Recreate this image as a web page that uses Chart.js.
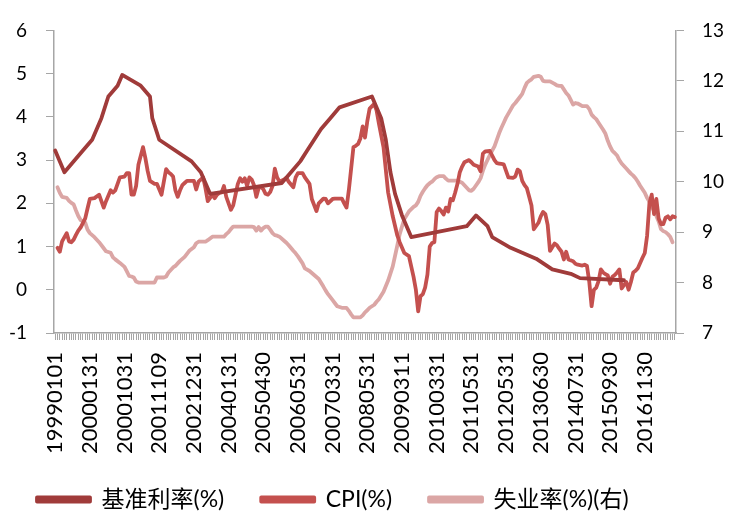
<!DOCTYPE html>
<html><head><meta charset="utf-8">
<script src="https://cdn.jsdelivr.net/npm/chart.js@4/dist/chart.umd.min.js"></script>
<style>html,body{margin:0;padding:0;background:#fff;}#wrap{width:729px;height:518px;}</style>
</head><body><div id="wrap"><canvas id="c" width="729" height="518"></canvas></div>
<script>
// Month-end observation dates
const monthEnds = [
'19990131','19990228','19990331','19990430','19990531','19990630','19990731','19990831','19990930','19991031','19991130','19991231',
'20000131','20000229','20000331','20000430','20000531','20000630','20000731','20000831','20000930','20001031','20001130','20001231',
'20010131','20010228','20010331','20010430','20010531','20010630','20010731','20010831','20010930','20011031','20011130','20011231',
'20020131','20020228','20020331','20020430','20020531','20020630','20020731','20020831','20020930','20021031','20021130','20021231',
'20030131','20030228','20030331','20030430','20030531','20030630','20030731','20030831','20030930','20031031','20031130','20031231',
'20040131','20040229','20040331','20040430','20040531','20040630','20040731','20040831','20040930','20041031','20041130','20041231',
'20050131','20050228','20050331','20050430','20050531','20050630','20050731','20050831','20050930','20051031','20051130','20051231',
'20060131','20060228','20060331','20060430','20060531','20060630','20060731','20060831','20060930','20061031','20061130','20061231',
'20070131','20070228','20070331','20070430','20070531','20070630','20070731','20070831','20070930','20071031','20071130','20071231',
'20080131','20080229','20080331','20080430','20080531','20080630','20080731','20080831','20080930','20081031','20081130','20081231',
'20090131','20090228','20090331','20090430','20090531','20090630','20090731','20090831','20090930','20091031','20091130','20091231',
'20100131','20100228','20100331','20100430','20100531','20100630','20100731','20100831','20100930','20101031','20101130','20101231',
'20110131','20110228','20110331','20110430','20110531','20110630','20110731','20110831','20110930','20111031','20111130','20111231',
'20120131','20120229','20120331','20120430','20120531','20120630','20120731','20120831','20120930','20121031','20121130','20121231',
'20130131','20130228','20130331','20130430','20130531','20130630','20130731','20130831','20130930','20131031','20131130','20131231',
'20140131','20140228','20140331','20140430','20140531','20140630','20140731','20140831','20140930','20141031','20141130','20141231',
'20150131','20150228','20150331','20150430','20150531','20150630','20150731','20150831','20150930','20151031','20151130','20151231',
'20160131','20160229','20160331','20160430','20160531','20160630','20160731','20160831','20160930','20161031','20161130','20161231',
'20170131','20170228','20170331','20170430','20170531','20170630','20170731','20170831','20170930','20171031','20171130','20171231'
];

// Policy-rate change dates and levels (left axis, %)
const rateDates = ['19990101','19990409','19991105','20000204','20000317','20000428','20000609','20000901','20001006',
'20010511','20010831','20010918','20011109','20021206','20030307','20030606','20051206','20060308','20060615','20060809',
'20061011','20061213','20070314','20070613','20080709','20081015','20081112','20081210','20090121','20090311','20090408',
'20090513','20110413','20110713','20111109','20111214','20120711','20130508','20131113','20140611','20140910','20160316'];
const rateValues = [3.22,2.72,3.22,3.47,3.72,3.97,4.47,4.72,4.97,
4.72,4.47,3.97,3.47,2.97,2.72,2.22,2.47,2.72,2.97,3.22,
3.47,3.72,3.97,4.22,4.47,3.97,3.47,2.72,2.22,1.72,1.47,
1.22,1.47,1.72,1.47,1.22,0.97,0.72,0.47,0.37,0.27,0.22];

// CPI, % (left axis), monthly 1999-01 .. 2017-12
const cpiValues = [
0.97,0.88,1.12,1.31,1.12,1.1,1.16,1.27,1.37,1.44,1.65,1.88,
2.1,2.12,2.2,1.9,2.05,2.3,2.25,2.3,2.6,2.62,2.7,2.7,
2.2,2.2,2.4,2.89,3.3,3.05,2.75,2.52,2.45,2.45,2.2,2.5,
2.79,2.72,2.68,2.62,2.3,2.15,2.3,2.42,2.47,2.52,2.52,2.52,
2.32,2.5,2.6,2.35,2.05,2.2,2.12,2.2,2.24,2.25,2.4,2.15,
2.0,1.85,1.95,2.2,2.45,2.58,2.5,2.58,2.4,2.6,2.55,2.42,
2.15,2.35,2.38,2.33,2.22,2.2,2.26,2.4,2.8,2.6,2.5,2.55,
2.59,2.5,2.37,2.6,2.7,2.7,2.6,2.45,2.1,1.82,2.0,2.11,
2.1,2.0,2.1,2.11,2.11,2.11,2.0,1.9,2.3,2.8,3.3,3.33,
3.37,3.5,3.78,3.52,3.9,4.19,4.3,4.15,3.85,3.3,2.25,1.7,
1.25,1.1,0.85,0.78,0.3,0.0,-0.5,-0.15,-0.1,0.05,0.35,1.0,
1.08,1.1,1.8,1.88,1.82,1.74,1.9,1.81,2.1,2.07,2.25,2.45,
2.72,2.85,2.95,3.0,2.95,2.89,2.85,2.74,3.15,3.2,3.21,3.0,
2.93,2.92,2.91,2.9,2.75,2.6,2.59,2.62,2.78,2.74,2.52,2.42,
2.35,2.15,1.95,1.4,1.55,1.7,1.8,1.75,1.5,0.9,1.07,1.03,
0.95,0.88,0.7,0.88,0.7,0.66,0.6,0.58,0.56,0.58,0.55,0.18,
-0.38,0.0,0.05,0.2,0.47,0.4,0.36,0.33,0.14,0.3,0.34,0.4,
0.47,0.03,0.18,0.0,0.18,0.4,0.44,0.5,0.62,0.74,0.85,1.25,
2.0,2.2,1.75,2.1,1.65,1.52,1.52,1.67,1.7,1.63,1.7,1.68
];

// Unemployment rate, % (right axis), monthly 1999-01 .. 2017-11
const unempValues = [
9.89,9.78,9.7,9.68,9.62,9.58,9.55,9.43,9.32,9.24,9.19,9.05,
8.98,8.9,8.8,8.68,8.62,8.59,8.5,8.46,8.39,8.31,8.22,8.13,
8.12,8.1,8.02,8.0,8.0,8.0,8.0,8.0,8.0,8.1,8.1,8.1,
8.12,8.2,8.25,8.3,8.33,8.38,8.43,8.47,8.51,8.57,8.63,8.7,
8.78,8.81,8.81,8.81,8.84,8.91,8.91,8.91,8.91,8.91,8.91,8.96,
9.0,9.06,9.11,9.11,9.11,9.11,9.11,9.11,9.11,9.11,9.11,9.1,
9.03,9.1,9.03,9.08,9.11,9.11,9.05,8.98,8.94,8.93,8.91,8.83,
8.79,8.74,8.63,8.58,8.52,8.38,8.28,8.23,8.19,8.11,8.07,7.92,
7.84,7.77,7.65,7.59,7.53,7.5,7.5,7.5,7.44,7.37,7.31,7.31,
7.31,7.31,7.35,7.41,7.45,7.5,7.56,7.62,7.67,7.82,8.04,8.32,
8.74,8.96,9.26,9.41,9.5,9.53,9.6,9.72,9.8,9.87,9.93,9.97,
10.0,10.05,10.09,10.11,10.11,10.11,10.06,10.02,10.02,10.02,10.02,10.02,
10.0,9.98,9.93,9.83,9.82,9.86,9.99,10.07,10.22,10.34,10.53,10.7,
10.83,10.96,11.07,11.17,11.27,11.35,11.51,11.56,11.62,11.68,11.74,11.86,
11.96,12.0,12.03,12.08,12.1,12.08,12.0,11.99,11.99,11.99,11.94,11.91,
11.9,11.9,11.83,11.76,11.71,11.53,11.56,11.55,11.5,11.5,11.5,11.44,
11.33,11.28,11.24,11.17,11.1,11.03,10.95,10.81,10.7,10.61,10.57,10.52,
10.43,10.36,10.26,10.21,10.16,10.12,10.07,10.0,9.92,9.85,9.78,9.68,
9.6,9.51,9.42,9.32,9.21,9.06,9.02,9.0,8.96,8.91,8.8
];

const xTickLabels = ['19990101','20000131','20001031','20011109','20021231','20040131','20050430','20060531','20070331',
'20080531','20090311','20100331','20110531','20120531','20130630','20140731','20150930','20161130'];
const seriesNames = ['基准利率(%)', 'CPI(%)', '失业率(%)(右)'];
const leftTicks = {min: -1, max: 6, step: 1};
const rightTicks = {min: 7, max: 13, step: 1};

// Build the category table (all dates, chronological)
const categories = Array.from(new Set(monthEnds.concat(rateDates))).sort();
const ratePoints = rateDates.map((d, i) => ({x: d, y: rateValues[i]}));
const cpiPoints = cpiValues.map((v, i) => ({x: monthEnds[i], y: v}));
const unempPoints = unempValues.map((v, i) => ({x: monthEnds[i], y: v}));

const AXIS = '#A6A6A6';
const LEGEND_H = 42, LEGEND_SHIFT = 25;
const legendFit = {
  id: 'legendFit',
  beforeInit(chart) {
    const lg = chart.legend;
    if (!lg) return;
    const orig = lg.fit;
    lg.fit = function () { orig.call(this); this.height = LEGEND_H; };
  },
  afterLayout(chart) {
    const lg = chart.legend;
    if (lg) { lg.top -= LEGEND_SHIFT; }
  }
};

const lineDs = (label, data, color, axis) => ({
  label, data, yAxisID: axis, borderColor: color, backgroundColor: color,
  borderWidth: 3.8, pointRadius: 0, pointHoverRadius: 0, tension: 0,
  borderJoinStyle: 'round', borderCapStyle: 'round', fill: false
});

new Chart(document.getElementById('c'), {
  type: 'line',
  data: {
    labels: categories,
    datasets: [
      lineDs(seriesNames[0], ratePoints, '#A03B3A', 'y'),
      lineDs(seriesNames[1], cpiPoints, '#C4504E', 'y'),
      lineDs(seriesNames[2], unempPoints, '#DBA6A5', 'y1')
    ]
  },
  options: {
    responsive: false, animation: false, devicePixelRatio: 1,
    layout: {padding: {top: 19, left: 0, right: 0, bottom: 0}},
    plugins: {
      tooltip: {enabled: false},
      legend: {
        position: 'bottom', align: 'start',
        labels: {boxWidth: 53, boxHeight: 4, padding: 37, color: '#000',
          font: {family: "Lato, 'Noto Sans CJK SC', sans-serif", size: 23}}
      }
    },
    scales: {
      x: {
        type: 'category', offset: true,
        grid: {display: true, drawOnChartArea: false, drawTicks: true, tickLength: 7, color: AXIS, lineWidth: 1},
        border: {display: true, color: AXIS, width: 1.5},
        ticks: {
          autoSkip: false, minRotation: 90, maxRotation: 90, padding: 12, color: '#000',
          font: {family: 'Lato, sans-serif', size: 22},
          callback(v) { const l = this.getLabelForValue(v); return xTickLabels.includes(l) ? l : ''; }
        },
        afterFit(s) { s.height = 143; }
      },
      y: {
        position: 'left', min: leftTicks.min, max: leftTicks.max,
        grid: {drawOnChartArea: false, drawTicks: true, tickLength: 8, color: AXIS},
        border: {display: true, color: AXIS, width: 1.5},
        ticks: {stepSize: leftTicks.step, padding: 19, color: '#000', font: {family: 'Lato, sans-serif', size: 19}},
        afterFit(s) { s.width = 54; }
      },
      y1: {
        position: 'right', min: rightTicks.min, max: rightTicks.max,
        grid: {drawOnChartArea: false, drawTicks: true, tickLength: 8, color: AXIS},
        border: {display: true, color: AXIS, width: 1.5},
        ticks: {stepSize: rightTicks.step, padding: 18, color: '#000', font: {family: 'Lato, sans-serif', size: 19}},
        afterFit(s) { s.width = 53; }
      }
    }
  },
  plugins: [legendFit]
});
</script>
</body></html>
